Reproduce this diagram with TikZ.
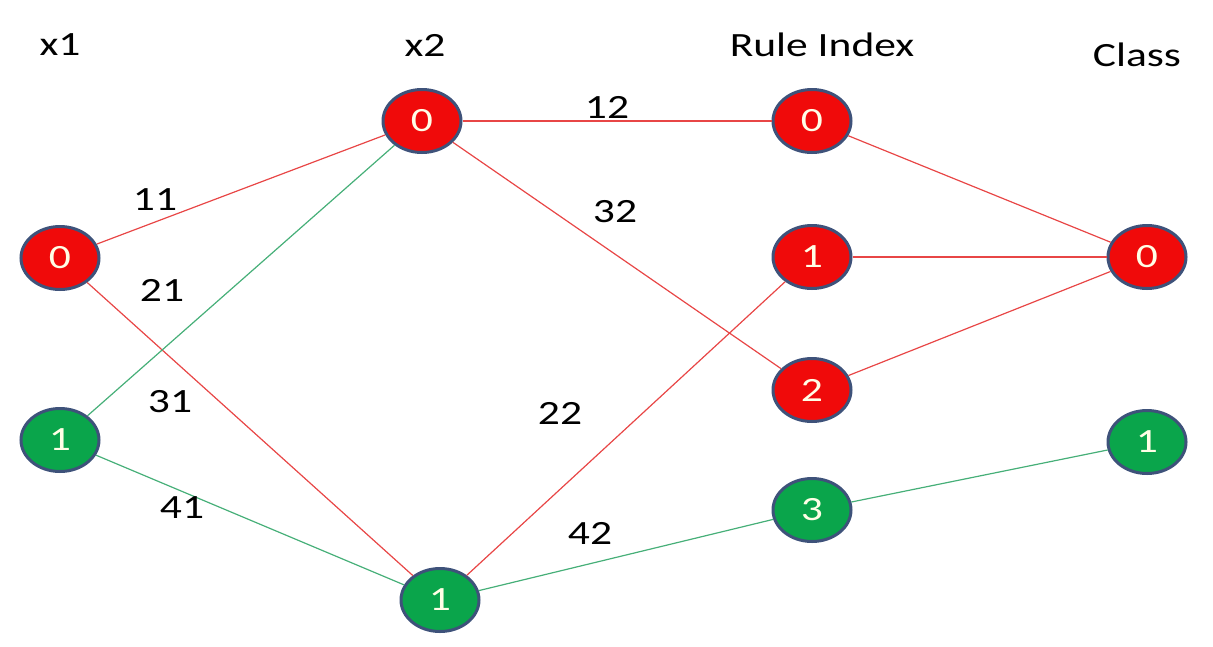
\documentclass[tikz,border=0pt]{standalone}
\usepackage{fontspec}
\setmainfont{Carlito}[FakeStretch=1.28]
\usetikzlibrary{shapes.geometric}
\definecolor{nred}{RGB}{240,10,10}
\definecolor{ngreen}{RGB}{10,165,75}
\definecolor{nborder}{RGB}{62,82,122}
\definecolor{ered}{RGB}{232,70,70}
\definecolor{egreen}{RGB}{70,175,120}
\tikzset{
  nd/.style={ellipse, draw=nborder, line width=3pt, minimum width=78pt, minimum height=63pt, inner sep=0pt, text=white!90!yellow, font=\fontsize{34}{34}\selectfont},
  rednd/.style={nd, fill=nred},
  greennd/.style={nd, fill=ngreen},
  hdr/.style={font=\fontsize{34}{34}\selectfont, text=black},
  elab/.style={font=\fontsize{34}{34}\selectfont, text=black},
  redge/.style={draw=ered, line width=1.2pt},
  gedge/.style={draw=egreen, line width=1.2pt}
}
\begin{document}
\begin{tikzpicture}[x=1pt,y=-1pt]
\useasboundingbox (0,0) rectangle (1213,646);
% headers
\node[hdr] (h1) at (60,45) {x1};
\node[hdr] (h2) at (425,45) {x2};
\node[hdr] (h3) at (822,45) {Rule Index};
\node[hdr] (h4) at (1137,55) {Class};
% nodes
\node[rednd] (a0) at (60,258) {0};
\node[greennd] (a1) at (60,440) {1};
\node[rednd] (b0) at (422,121) {0};
\node[greennd] (b1) at (440,600) {1};
\node[rednd] (r0) at (812,121) {0};
\node[rednd] (r1) at (812,257) {1};
\node[rednd] (r2) at (812,390) {2};
\node[greennd] (r3) at (812,510) {3};
\node[rednd] (c0) at (1147,257) {0};
\node[greennd] (c1) at (1147,442) {1};
% edges
\draw[redge] (a0) -- (b0);
\draw[redge] (a0) -- (b1);
\draw[gedge] (a1) -- (b0);
\draw[gedge] (a1) -- (b1);
\draw[redge] (b0) -- (r0);
\draw[redge] (b0) -- (r2);
\draw[redge] (b1) -- (r1);
\draw[gedge] (b1) -- (r3);
\draw[redge] (r0) -- (c0);
\draw[redge] (r1) -- (c0);
\draw[redge] (r2) -- (c0);
\draw[gedge] (r3) -- (c1);
% edge labels
\node[elab] (l11) at (155,200) {11};
\node[elab] (l21) at (162,290) {21};
\node[elab] (l31) at (170,402) {31};
\node[elab] (l41) at (182,508) {41};
\node[elab] (l12) at (607,107) {12};
\node[elab] (l32) at (615,212) {32};
\node[elab] (l22) at (560,413) {22};
\node[elab] (l42) at (590,533) {42};
\end{tikzpicture}
\end{document}
